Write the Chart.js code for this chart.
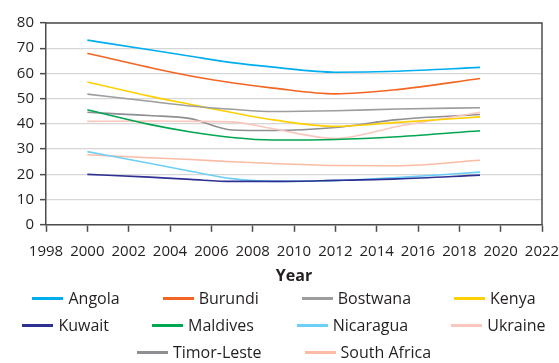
<!DOCTYPE html>
<html>
<head>
<meta charset="utf-8">
<script src="https://cdn.jsdelivr.net/npm/chart.js@4.4.1/dist/chart.umd.min.js"></script>
<style>
    body { margin: 0; background: #fff; font-family: "Open Sans", sans-serif; }
    #wrap { position: relative; width: 559px; height: 363px; overflow: hidden; }
    #mycanvas { position: absolute; top: 0; left: 0; }
    #legend {
        position: absolute; top: 285px; left: 3px; width: 562px;
        display: flex; flex-wrap: wrap; justify-content: center; column-gap: 43px;
        font-size: 16px; line-height: 27px; color: #231f20;
    }
    #legend .item { display: flex; align-items: center; white-space: nowrap; }
    #legend .swatch { display: inline-block; width: 31px; height: 2.5px; margin-right: 5px; }
</style>
</head>
<body>
<div id="wrap">
    <canvas id="mycanvas" width="559" height="289"></canvas>
    <div id="legend"></div>
</div>
<script>
const years = [2000, 2003, 2005, 2007, 2009, 2012, 2015, 2019];

const angola      = [73.2, 69.4, 66.8, 64.3, 62.5, 60.5, 60.9, 62.4];
const burundi     = [68.0, 62.4, 59.0, 56.3, 54.2, 51.9, 53.6, 58.0];
const bostwana    = [51.8, 49.0, 47.1, 45.8, 44.9, 45.2, 45.9, 46.4];
const kenya       = [56.6, 51.0, 47.7, 44.5, 41.6, 39.0, 40.6, 42.8];
const kuwait      = [20.0, 18.9, 18.0, 17.2, 17.2, 17.6, 18.2, 19.7];
const maldives    = [45.6, 39.8, 36.8, 34.6, 33.6, 33.8, 34.9, 37.3];
const nicaragua   = [29.0, 24.4, 21.2, 18.3, 17.2, 17.5, 18.7, 20.9];
const ukraine     = [41.0, 41.1, 41.0, 40.8, 38.1, 34.2, 39.0, 44.6];
const timorLeste  = [44.6, 43.3, 42.1, 37.6, 37.4, 38.6, 41.7, 43.7];
const southAfrica = [27.8, 26.6, 25.9, 25.0, 24.3, 23.5, 23.4, 25.6];

const countries = ['Angola', 'Burundi', 'Bostwana', 'Kenya', 'Kuwait',
    'Maldives', 'Nicaragua', 'Ukraine', 'Timor-Leste', 'South Africa'];
const series = [angola, burundi, bostwana, kenya, kuwait,
    maldives, nicaragua, ukraine, timorLeste, southAfrica];
const colors = ['#00aeef', '#f26522', '#9d9d9d', '#ffd000', '#2e3192',
    '#00a651', '#6dcff6', '#f9c7bd', '#8e8f92', '#fbbba5'];

const datasets = countries.map((name, i) => ({
    label: name,
    data: years.map((yr, j) => ({ x: yr, y: series[i][j] })),
    borderColor: colors[i],
    backgroundColor: colors[i],
    borderWidth: 1.6,
    pointRadius: 0,
    cubicInterpolationMode: 'monotone',
    fill: false
}));

// box round the plot area (top and right edges)
const frame = {
    id: 'frame',
    afterDraw(chart) {
        const a = chart.chartArea;
        const ctx = chart.ctx;
        ctx.save();
        ctx.strokeStyle = '#4d4d4d';
        ctx.lineWidth = 1.5;
        ctx.beginPath();
        ctx.moveTo(a.left, a.top);
        ctx.lineTo(a.right, a.top);
        ctx.lineTo(a.right, a.bottom);
        ctx.stroke();
        ctx.restore();
    }
};

const tickFont = { family: '"Open Sans", sans-serif', size: 15 };

const ctx = document.getElementById('mycanvas');
const chart = new Chart(ctx, {
    type: 'line',
    data: { datasets: datasets },
    options: {
        responsive: false,
        animation: false,
        layout: { padding: { left: 16, right: 0, top: 23, bottom: 3 } },
        plugins: {
            legend: { display: false },
            tooltip: { enabled: false }
        },
        scales: {
            x: {
                type: 'linear',
                min: 1998,
                max: 2022,
                afterFit: scale => { scale.paddingLeft = 0; scale.paddingRight = 17; },
                ticks: { stepSize: 2, padding: 11, color: '#231f20', font: tickFont,
                    maxRotation: 0, autoSkip: false, callback: v => String(v) },
                grid: { drawOnChartArea: false, drawTicks: true, tickLength: 7, tickColor: '#4d4d4d', tickWidth: 1.5 },
                border: { color: '#4d4d4d', width: 1.5 },
                title: { display: true, text: 'Year', color: '#231f20',
                    font: { family: '"Open Sans", sans-serif', size: 16, weight: 'bold' },
                    padding: { top: -5, bottom: 0 } }
            },
            y: {
                min: 0,
                max: 80,
                afterFit: scale => { scale.width = 30; },
                ticks: { stepSize: 10, padding: 6, color: '#231f20', font: tickFont },
                grid: { color: '#d6d6d6', lineWidth: 1.3, tickLength: 6, tickColor: '#4d4d4d', tickWidth: 1.5 },
                border: { color: '#4d4d4d', width: 1.5 }
            }
        }
    },
    plugins: [frame]
});

// legend below the chart
const legend = document.getElementById('legend');
countries.forEach((name, i) => {
    const item = document.createElement('span');
    item.className = 'item';
    const sw = document.createElement('span');
    sw.className = 'swatch';
    sw.style.background = colors[i];
    item.appendChild(sw);
    item.appendChild(document.createTextNode(name));
    legend.appendChild(item);
});
</script>
</body>
</html>
